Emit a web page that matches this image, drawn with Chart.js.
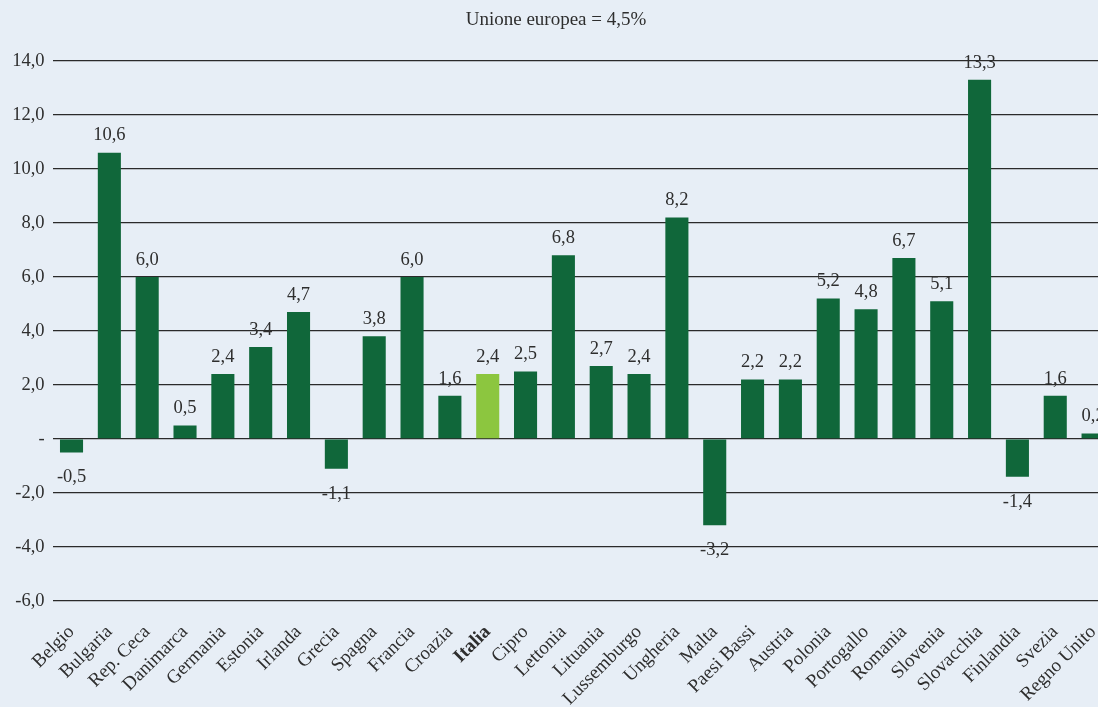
<!DOCTYPE html>
<html lang="it">
<head>
<meta charset="utf-8">
<title>Unione europea = 4,5%</title>
<script src="https://cdn.jsdelivr.net/npm/chart.js@4/dist/chart.umd.min.js"></script>
<style>
  html, body { margin: 0; padding: 0; background: #e7eef6; overflow: hidden; }
  #wrap { width: 1112px; height: 707px; position: relative; }
</style>
</head>
<body>
<div id="wrap"><canvas id="chart-bar"></canvas></div>
<script>
const paesi = ["Belgio", "Bulgaria", "Rep. Ceca", "Danimarca", "Germania", "Estonia", "Irlanda",
  "Grecia", "Spagna", "Francia", "Croazia", "Italia", "Cipro", "Lettonia", "Lituania",
  "Lussemburgo", "Ungheria", "Malta", "Paesi Bassi", "Austria", "Polonia", "Portogallo",
  "Romania", "Slovenia", "Slovacchia", "Finlandia", "Svezia", "Regno Unito"];
const variazioni = [-0.5, 10.6, 6.0, 0.5, 2.4, 3.4, 4.7, -1.1, 3.8, 6.0, 1.6, 2.4, 2.5, 6.8, 2.7,
  2.4, 8.2, -3.2, 2.2, 2.2, 5.2, 4.8, 6.7, 5.1, 13.3, -1.4, 1.6, 0.2];
const yTicks = [-6, -4, -2, 0, 2, 4, 6, 8, 10, 12, 14];
const evidenziato = "Italia";

const verde = "#10673a";
const verdeChiaro = "#8cc63f";
const testo = "#2e2e2e";
const serif = "'Liberation Serif', 'DejaVu Serif', serif";

const numIt = (v) => v === 0 ? "-" : v.toFixed(1).replace(".", ",");

// value labels above (or below) each bar
const valueLabels = {
  id: "valueLabels",
  afterDatasetsDraw(chart) {
    const ctx = chart.ctx;
    const meta = chart.getDatasetMeta(0);
    ctx.save();
    ctx.font = "18.5px " + serif;
    ctx.fillStyle = testo;
    ctx.textAlign = "center";
    ctx.textBaseline = "middle";
    meta.data.forEach((bar, i) => {
      const v = variazioni[i];
      const y = v >= 0 ? bar.y - 17 : bar.y + 25;
      ctx.fillText(numIt(v), bar.x, y);
    });
    ctx.restore();
  }
};

const bar = document.getElementById("chart-bar");
new Chart(bar, {
  type: "bar",
  data: {
    labels: paesi,
    datasets: [{
      data: variazioni,
      backgroundColor: paesi.map(p => p === evidenziato ? verdeChiaro : verde),
      borderWidth: 0,
      categoryPercentage: 1,
      barPercentage: 0.61
    }]
  },
  options: {
    responsive: true,
    maintainAspectRatio: false,
    animation: false,
    layout: { padding: 0 },
    plugins: {
      legend: { display: false },
      tooltip: { enabled: false },
      title: {
        display: true,
        text: "Unione europea = 4,5%",
        color: testo,
        font: { family: serif, size: 19, weight: "normal" },
        padding: { top: 9, bottom: 29 }
      }
    },
    scales: {
      x: {
        grid: { display: false },
        border: { display: false },
        afterFit: (axis) => {
          axis.height = 106;
          axis.paddingLeft = 0;
          axis.paddingRight = 0;
        },
        ticks: {
          autoSkip: false,
          minRotation: 45,
          maxRotation: 45,
          padding: 12,
          color: testo,
          font: (c) => ({
            family: serif,
            size: 19,
            weight: paesi[c.index] === evidenziato ? "bold" : "normal"
          })
        }
      },
      y: {
        min: yTicks[0],
        max: yTicks[yTicks.length - 1],
        afterFit: (axis) => { axis.width = 52.6; },
        afterBuildTicks: (axis) => { axis.ticks = yTicks.map(v => ({ value: v })); },
        grid: { color: "#2a2a2a", lineWidth: 1.3, drawTicks: false },
        border: { display: false },
        ticks: {
          padding: 8,
          color: testo,
          font: { family: serif, size: 18.5 },
          callback: (v) => numIt(v)
        }
      }
    }
  },
  plugins: [valueLabels]
});
</script>
</body>
</html>
